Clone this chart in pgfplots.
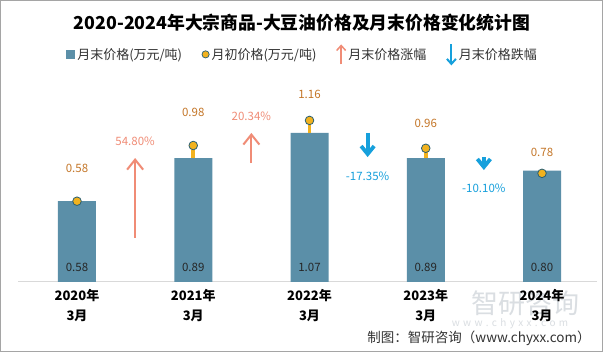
\documentclass[border=0pt]{standalone}
\usepackage{fontspec}
\setmainfont{Noto Sans CJK SC}
\usepackage{pgfplots}
\pgfplotsset{compat=1.18}
\usetikzlibrary{arrows.meta}
\definecolor{barc}{RGB}{91,143,168}
\definecolor{goldc}{RGB}{242,178,30}
\definecolor{tealc}{RGB}{40,95,115}
\definecolor{openc}{RGB}{196,118,40}
\definecolor{upc}{RGB}{240,140,118}
\definecolor{downc}{RGB}{22,160,220}
\definecolor{framec}{RGB}{165,165,165}
\definecolor{axc}{RGB}{217,217,217}
\definecolor{wmc}{RGB}{218,222,226}
\begin{document}
\begin{tikzpicture}
\useasboundingbox (-18pt,-70pt) rectangle (585pt,282pt);
\fill[white] (-18pt,-70pt) rectangle (585pt,282pt);
% watermark
\node[text=wmc, font=\fontsize{27}{27}\selectfont] at (507pt,-21pt) {智研咨询};
\node[text=wmc, font=\fontsize{10}{10}\selectfont] at (492pt,-42pt) {w\,\,w\,\,w\,\,.\,\,c\,\,h\,\,y\,\,x\,\,x\,\,.\,\,c\,\,o\,\,m};
\begin{axis}[
  at={(0pt,0pt)}, anchor=south west,
  scale only axis, width=579pt, height=212pt,
  xmin=-0.5075, xmax=4.473, ymin=0, ymax=1.522,
  axis x line=bottom, axis y line=none,
  x axis line style={draw=axc, line width=1pt, -},
  xtick={0,1,2,3,4},
  xticklabels={{2020年\\3月},{2021年\\3月},{2022年\\3月},{2023年\\3月},{2024年\\3月}},
  xticklabel style={align=center, font=\bfseries\fontsize{13}{20}\selectfont, yshift=-4pt},
  major tick length=0pt,
  clip=false,
  legend columns=4,
  legend cell align=left,
  legend style={at={(axis description cs:0.083,1.071)}, anchor=west, draw=none, fill=none, inner sep=0pt,
    font=\fontsize{13}{15}\selectfont, text=black!80,
    /tikz/every even column/.append style={column sep=17.5pt}},
]
\addplot[ybar, bar width=38pt, fill=barc, draw=none,
  legend image code/.code={\fill[barc] (0pt,-4.5pt) rectangle (9pt,4.5pt);}]
  coordinates {(0,0.58) (1,0.89) (2,1.07) (3,0.89) (4,0.80)};
\addlegendentry{月末价格(万元/吨)}
% sticks
\addplot[goldc, line width=3.6pt, forget plot] coordinates {(1,0.89) (1,0.98)};
\addplot[goldc, line width=3.6pt, forget plot] coordinates {(2,1.07) (2,1.16)};
\addplot[goldc, line width=3.6pt, forget plot] coordinates {(3,0.89) (3,0.96)};
\addplot[only marks, mark=*, mark size=4.3pt, mark options={fill=goldc, draw=tealc, line width=0.8pt},
  legend image code/.code={\draw[fill=goldc, draw=tealc, line width=0.7pt] (4pt,0pt) circle (3.6pt);}]
  coordinates {(0,0.58) (1,0.98) (2,1.16) (3,0.96) (4,0.78)};
\addlegendentry{月初价格(万元/吨)}
\addlegendimage{legend image code/.code={\draw[upc, line width=1.5pt, -{Straight Barb[length=5pt,width=9pt]}] (4pt,-10pt) -- (4pt,10pt);}}
\addlegendentry{月末价格涨幅}
\addlegendimage{legend image code/.code={\draw[downc, line width=2pt, -{Straight Barb[length=5pt,width=9pt]}] (4pt,10pt) -- (4pt,-11pt);}}
\addlegendentry{月末价格跌幅}
% arrows
\addplot[upc, line width=2pt, -{Straight Barb[length=10pt,width=16pt]}, forget plot] coordinates {(0.5,0.316) (0.5,0.89)};
\addplot[upc, line width=2pt, -{Straight Barb[length=10pt,width=16pt]}, forget plot] coordinates {(1.5,0.854) (1.5,1.07)};
\addplot[downc, line width=3.8pt, -{Straight Barb[length=8pt,width=13pt]}, forget plot] coordinates {(2.5,1.07) (2.5,0.897)};
\addplot[downc, line width=3.8pt, -{Straight Barb[length=8pt,width=13pt]}, forget plot] coordinates {(3.5,0.897) (3.5,0.804)};
% bar value labels
\foreach \x/\v in {0/0.58, 1/0.89, 2/1.07, 3/0.89, 4/0.80} {
  \edef\temp{\noexpand\node[anchor=base, font=\noexpand\fontsize{11.5}{12}\noexpand\selectfont, text=black!85] at (axis cs:\x,0) [yshift=10pt] {\v};}
  \temp
}
% opening labels
\node[text=openc, font=\fontsize{11.5}{12}\selectfont] at (axis cs:0,0.818) {0.58};
\node[text=openc, font=\fontsize{11.5}{12}\selectfont] at (axis cs:1,1.22) {0.98};
\node[text=openc, font=\fontsize{11.5}{12}\selectfont] at (axis cs:2,1.35) {1.16};
\node[text=openc, font=\fontsize{11.5}{12}\selectfont] at (axis cs:3,1.141) {0.96};
\node[text=openc, font=\fontsize{11.5}{12}\selectfont] at (axis cs:4,0.933) {0.78};
% percent labels
\node[text=upc, font=\fontsize{11.5}{12}\selectfont] at (axis cs:0.5,1.012) {54.80\%};
\node[text=upc, font=\fontsize{11.5}{12}\selectfont] at (axis cs:1.5,1.192) {20.34\%};
\node[text=downc, font=\fontsize{11.5}{12}\selectfont] at (axis cs:2.5,0.761) {-17.35\%};
\node[text=downc, font=\fontsize{11.5}{12}\selectfont] at (axis cs:3.5,0.675) {-10.10\%};
\end{axis}
% title
\node[font=\bfseries\fontsize{17.8}{18}\selectfont] at (284pt,259pt) {2020-2024年大宗商品-大豆油价格及月末价格变化统计图};
% footer
\node[font=\fontsize{13.5}{14}\selectfont, text=black!80] at (461pt,-56pt) {制图：智研咨询（www.chyxx.com）};
% frame
\draw[framec, line width=1pt] (-17.5pt,-69.5pt) rectangle (584.5pt,281.5pt);
\end{tikzpicture}
\end{document}
